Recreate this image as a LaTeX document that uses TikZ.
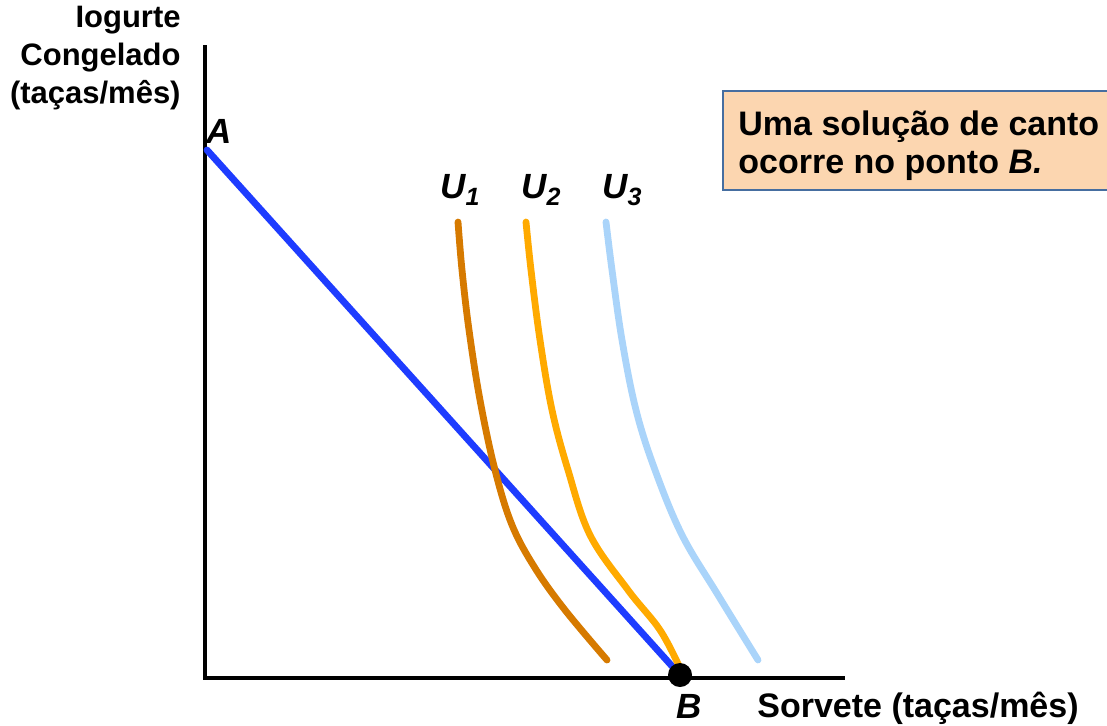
\documentclass[tikz,border=0pt]{standalone}
\usepackage{fontspec}
\setmainfont{Liberation Sans}
\definecolor{budget}{RGB}{30,60,255}
\definecolor{ucurveone}{RGB}{214,122,0}
\definecolor{ucurvetwo}{RGB}{255,170,0}
\definecolor{ucurvethree}{RGB}{170,212,250}
\definecolor{notefill}{RGB}{252,214,176}
\definecolor{noteline}{RGB}{70,110,160}
\tikzset{
  axisline/.style={line width=1.6pt, black},
  ucurve/.style={line width=3.4pt, line cap=round, line join=round},
  axislabel/.style={font=\fontsize{15.5}{19}\selectfont\bfseries, inner sep=0pt},
  ptlabel/.style={font=\fontsize{17.5}{19}\selectfont\bfseries\itshape, inner sep=0pt},
}
\newcommand{\ulab}[1]{U\raisebox{-0.4ex}{\fontsize{12.5}{12.5}\selectfont #1}}
\begin{document}
\begin{tikzpicture}[x=0.5pt, y=-0.5pt]
  \useasboundingbox (0,0) rectangle (1107,725);
  \clip (0,0) rectangle (1107,725);
  % axes
  \coordinate (top) at (205,45);
  \coordinate (origin) at (205,678);
  \coordinate (right) at (845,678);
  \draw[axisline] (top) -- (origin) -- (right);
  \node[axislabel, align=right, anchor=east] (ylab) at (181,58)
    {Iogurte\\Congelado\\(taças/mês)};
  \node[axislabel, font=\fontsize{17}{19}\selectfont\bfseries, anchor=west] (xlab) at (757,708)
    {Sorvete (taças/mês)};
  % budget line
  \coordinate (A) at (207,150);
  \coordinate (B) at (680,675);
  \draw[ucurve, budget] (A) -- (B);
  \node[ptlabel] (Alab) at (219,131) {A};
  % indifference curves
  \draw[ucurve, ucurvethree] plot[smooth, tension=0.6] coordinates
    {(606,222) (612,270) (622,340) (636,410) (655,470) (682,535) (718,595) (758,660)};
  \draw[ucurve, ucurvetwo] plot[smooth, tension=0.6] coordinates
    {(526,222) (531,270) (540,340) (552,410) (568,470) (590,535) (628,590) (660,630) (680,668)};
  \draw[ucurve, ucurveone] plot[smooth, tension=0.6] coordinates
    {(458,222) (462,270) (469,330) (480,400) (495,470) (512,525) (535,568) (565,610) (607,660)};
  \node[ptlabel] (u1) at (460,190) {\ulab{1}};
  \node[ptlabel] (u2) at (541,190) {\ulab{2}};
  \node[ptlabel] (u3) at (622,190) {\ulab{3}};
  % corner point
  \fill (B) circle (6pt);
  \node[ptlabel] (Blab) at (689,706) {B};
  % note
  \filldraw[fill=notefill, draw=noteline, line width=1pt] (723,91) rectangle (1125,190);
  \node[ptlabel, font=\fontsize{17}{19}\selectfont\bfseries, align=left, anchor=west] (note) at (738,146)
    {Uma solução de canto\\ocorre no ponto \textit{B.}};
\end{tikzpicture}
\end{document}
